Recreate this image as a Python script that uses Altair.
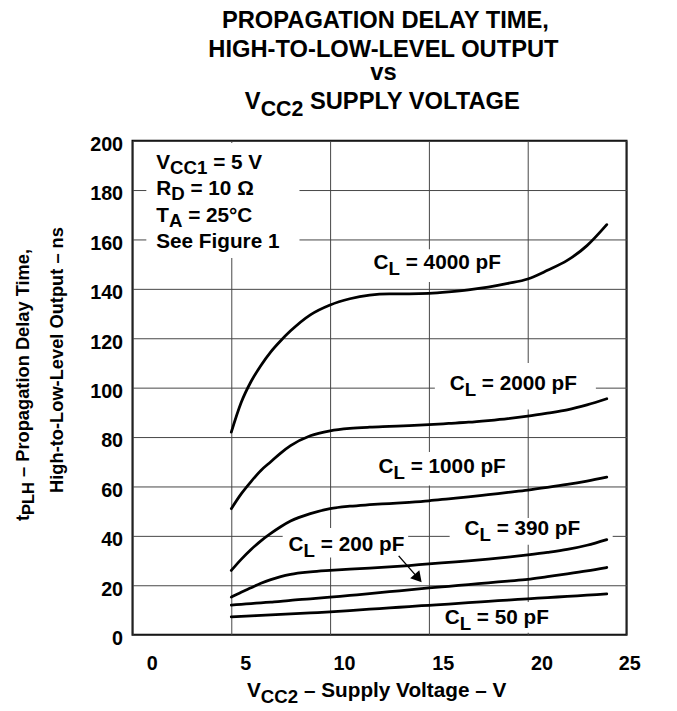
import altair as alt
import pandas as pd

FONT = "Liberation Sans"

# ---------------- data ----------------
volts = [5, 5.5, 6, 6.5, 7, 7.5, 8, 9, 10, 11, 12, 13, 14, 15, 16, 17, 18, 19, 20, 21, 22, 23, 24]
cl_4000pf = [82, 94, 102.5, 109, 114.5, 119, 123, 129.5, 133.5, 136, 137.5, 138, 138, 138.2, 138.8,
             139.6, 140.7, 142.2, 144, 147.5, 151.5, 157.5, 166]
cl_2000pf = [51, 57, 62, 66.5, 70, 73.5, 76.5, 80.5, 82.5, 83.5, 84, 84.3, 84.6, 85, 85.5, 86,
             86.7, 87.5, 88.5, 89.7, 91, 93, 95.5]
cl_1000pf = [26, 30.5, 34.5, 38, 41, 43.7, 46, 49, 51, 52, 52.6, 53.1, 53.6, 54.2, 55, 55.8,
             56.7, 57.6, 58.5, 59.6, 60.8, 62.2, 63.8]
cl_390pf = [15.2, 17.2, 19, 20.8, 22.3, 23.5, 24.4, 25.4, 26, 26.5, 26.9, 27.4, 28, 28.7, 29.3,
            29.9, 30.6, 31.4, 32.3, 33.3, 34.5, 36.2, 38.5]
cl_200pf = [12, 12.3, 12.6, 12.9, 13.2, 13.5, 13.9, 14.5, 15.2, 15.9, 16.6, 17.4, 18.1, 18.9,
            19.6, 20.3, 21, 21.7, 22.4, 23.5, 24.6, 25.8, 27.2]
cl_50pf = [7.2, 7.4, 7.6, 7.8, 8.0, 8.2, 8.4, 8.8, 9.2, 9.7, 10.3, 10.8, 11.4, 11.9, 12.4, 13.0,
           13.5, 14.0, 14.5, 15.0, 15.5, 16.0, 16.5]

x_ticks = [0, 5, 10, 15, 20, 25]
y_ticks = [0, 20, 40, 60, 80, 100, 120, 140, 160, 180, 200]

label_values = ["4000", "2000", "1000", "390", "200", "50"]
label_x = [12.2, 16.05, 12.45, 16.8, 7.9, 15.8]
label_y = [148, 99.2, 65.6, 40.4, 34, 4.4]

# white masks behind the text blocks (data units)
box_x1 = [0.7, 11.9, 15.3, 12.05, 16.05, 7.6, 15.55]
box_x2 = [8.45, 19.1, 23.45, 19.3, 24.3, 13.95, 21.3]
box_y1 = [152.5, 142.8, 91.2, 60.4, 36.4, 31.2, 0.8]
box_y2 = [199, 156, 110, 74, 47.2, 43.2, 13.2]

# ---------------- tables ----------------
series = {"4000": cl_4000pf, "2000": cl_2000pf, "1000": cl_1000pf,
          "390": cl_390pf, "200": cl_200pf, "50": cl_50pf}
curve_df = pd.DataFrame([{"v": v, "t": t, "cl": k}
                         for k, vals in series.items() for v, t in zip(volts, vals)])
label_df = pd.DataFrame({"x": label_x, "y": label_y,
                         "rest": [f"= {v} pF" for v in label_values]})
box_df = pd.DataFrame({"x1": box_x1, "x2": box_x2, "y1": box_y1, "y2": box_y2})

xs = alt.Scale(domain=[0, 25], nice=False, zero=False)
ys = alt.Scale(domain=[0, 200], nice=False, zero=False)
xaxis = alt.Axis(values=x_ticks, title=None, grid=True, ticks=False, domain=False,
                 labelPadding=19, labelOffset=14)
yaxis = alt.Axis(values=y_ticks, title=None, grid=True, ticks=False, domain=False,
                 labelPadding=10, labelOffset=4)


def X(field=None, datum=None):
    if datum is not None:
        return alt.X(datum=datum, scale=xs, axis=xaxis)
    return alt.X(field, scale=xs, axis=xaxis)


def Y(field=None, datum=None):
    if datum is not None:
        return alt.Y(datum=datum, scale=ys, axis=yaxis)
    return alt.Y(field, scale=ys, axis=yaxis)


# Arial/Liberation Sans Bold advance widths (1/1000 em)
W = {' ': 278, ',': 278, '-': 333, '.': 278, '=': 584, '°': 400, 'Ω': 768, '–': 556}
W.update({d: 556 for d in "0123456789"})
W.update(dict(A=722, B=722, C=722, D=722, E=667, F=611, G=778, H=722, I=278, L=611, M=833,
              N=722, O=778, P=667, R=722, S=667, T=611, U=722, V=667, W=944, Y=667))
W.update(dict(a=556, e=556, g=611, h=611, i=278, l=278, m=889, n=611, o=611, p=611, r=389,
              s=556, t=333, u=611, v=556, w=778, y=556))


def tw(s, size):
    return sum(W.get(c, 600) for c in s) * size / 1000.0


ONE = alt.Data(values=[{}])


def text_layer(txt, x, y, size, dx=0.0, dy=0.0, angle=0, align="left"):
    return alt.Chart(ONE).mark_text(
        text=txt, font=FONT, fontWeight="bold", fontSize=size, dx=dx, dy=dy,
        angle=angle, align=align, baseline="alphabetic", color="black"
    ).encode(x=x, y=y)


def rich(pieces, x, y, size, center=False, angle=0, sub_dy=None):
    sub = size * 0.9
    ws = [tw(t, sub if s else size) for t, s in pieces]
    off = -sum(ws) / 2 if center else 0.0
    sdy = round(size * 0.28) if sub_dy is None else sub_dy
    out = []
    for (t, s), w in zip(pieces, ws):
        sz = sub if s else size
        lead = len(t) - len(t.lstrip(" "))
        out.append(text_layer(t.strip(" "), x, y, sz, dx=off + lead * tw(" ", sz),
                              dy=sdy if s else 0, angle=angle))
        off += w
    return out


# ---------------- marks ----------------
boxes = alt.Chart(box_df).mark_rect(color="white").encode(
    x=X("x1:Q"), x2="x2:Q", y=Y("y1:Q"), y2="y2:Q")

curves = alt.Chart(curve_df).mark_line(
    color="black", strokeWidth=2.8, interpolate="monotone", strokeCap="round"
).encode(x=X("v:Q"), y=Y("t:Q"), detail="cl:N")

arrow_df = pd.DataFrame({"x": [13.47], "y": [31.9], "x2": [14.4], "y2": [23.4]})
arrow_shaft = alt.Chart(arrow_df).mark_rule(color="black", strokeWidth=1.4).encode(
    x=X("x:Q"), y=Y("y:Q"), x2="x2:Q", y2="y2:Q")
arrow_head = alt.Chart(arrow_df).mark_point(
    shape="triangle", filled=True, color="black", opacity=1, size=150, angle=139
).encode(x=X("x2:Q"), y=Y("y2:Q"))

LS = 21
lab_c = alt.Chart(label_df).mark_text(
    text="C", font=FONT, fontWeight="bold", fontSize=LS, align="left",
    baseline="alphabetic", color="black").encode(x=X("x:Q"), y=Y("y:Q"))
lab_l = alt.Chart(label_df).mark_text(
    text="L", font=FONT, fontWeight="bold", fontSize=LS * 0.9, align="left",
    baseline="alphabetic", color="black", dx=tw("C", LS), dy=6
).encode(x=X("x:Q"), y=Y("y:Q"))
lab_rest = alt.Chart(label_df).mark_text(
    font=FONT, fontWeight="bold", fontSize=LS, align="left", baseline="alphabetic",
    color="black", dx=tw("C", LS) + tw("L", LS * 0.9) + tw(" ", LS)
).encode(x=X("x:Q"), y=Y("y:Q"), text="rest:N")

texts = []
# condition block
cond_lines = [
    [("V", False), ("CC1", True), (" = 5 V", False)],
    [("R", False), ("D", True), (" = 10 Ω", False)],
    [("T", False), ("A", True), (" = 25°C", False)],
    [("See Figure 1", False)],
]
cond_y = [188.4, 178, 167.2, 156.4]
for pcs, yy in zip(cond_lines, cond_y):
    texts += rich(pcs, X(datum=1.2), Y(datum=yy), 21, sub_dy=5)

# chart title (pixel positions relative to plot area)
TS = 24
texts.append(text_layer("PROPAGATION DELAY TIME,", alt.value(256), alt.value(-114), TS, align="center"))
texts.append(text_layer("HIGH-TO-LOW-LEVEL OUTPUT", alt.value(254), alt.value(-85), TS, align="center"))
texts.append(text_layer("vs", alt.value(254), alt.value(-61), TS, align="center"))
texts += rich([("V", False), ("CC2", True), (" SUPPLY VOLTAGE", False)],
              alt.value(256), alt.value(-32), TS, center=True)

# x axis title
texts += rich([("V", False), ("CC2", True), (" – Supply Voltage – V", False)],
              alt.value(248), alt.value(563), 21, center=True)

# y axis title (rotated)
YS = 18.5
texts += rich([("t", False), ("PLH", True), (" – Propagation Delay Time,", False)],
              alt.value(-105), alt.value(385), YS, angle=270)
texts.append(text_layer("High-to-Low-Level Output – ns", alt.value(-70), alt.value(222), YS,
                        angle=270, align="center"))

chart = alt.layer(boxes, curves, arrow_shaft, arrow_head, lab_c, lab_l, lab_rest, *texts).properties(
    width=500, height=500,
    background="white",
    autosize=alt.AutoSizeParams(type="none"),
    padding={"left": 126, "top": 130, "right": 43, "bottom": 73},
).configure_view(
    stroke="black", strokeWidth=2
).configure_axis(
    labelFont=FONT, labelFontSize=20, labelFontWeight="bold", labelColor="black",
    gridColor="#444444", gridWidth=1, gridOpacity=1
)

chart.save("out.html", embed_options={"renderer": "svg", "actions": False})
